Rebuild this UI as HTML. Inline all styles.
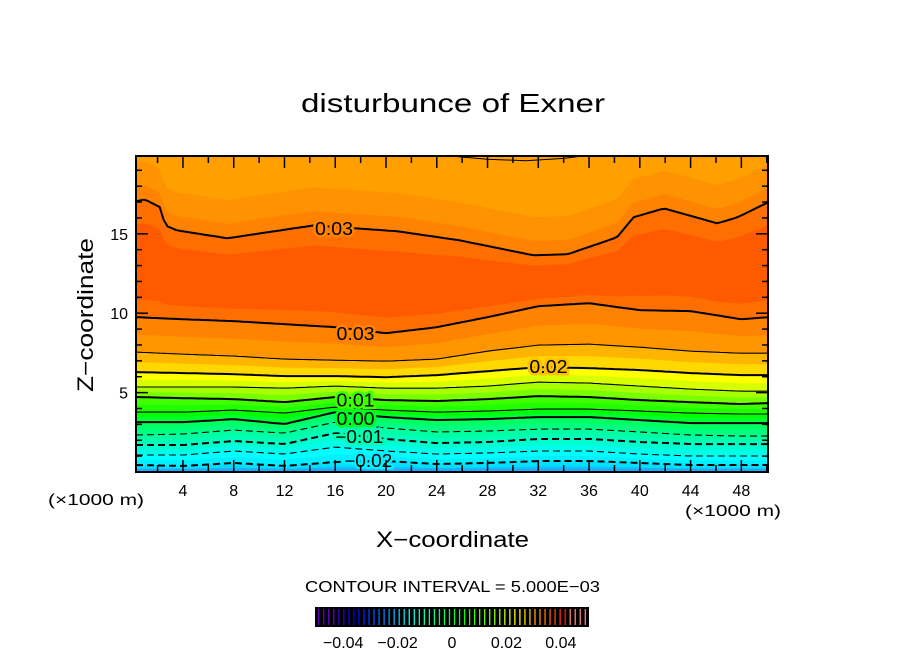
<!DOCTYPE html>
<html><head><meta charset="utf-8"><style>
body{margin:0;background:#fff;}
svg{display:block;font-family:"Liberation Sans",sans-serif;}
</style></head><body>
<svg id="chart" width="904" height="654" viewBox="0 0 904 654">
<text x="301" y="112" font-size="26" textLength="304" lengthAdjust="spacingAndGlyphs">disturbunce of Exner</text>
<g id="plot"></g>
<text x="48" y="505" font-size="16" textLength="96" lengthAdjust="spacingAndGlyphs">(×1000 m)</text>
<text x="685" y="516" font-size="16" textLength="96" lengthAdjust="spacingAndGlyphs">(×1000 m)</text>
<text x="376" y="547" font-size="22" textLength="153" lengthAdjust="spacingAndGlyphs">X−coordinate</text>
<text transform="translate(93,392) rotate(-90)" font-size="22" textLength="154" lengthAdjust="spacingAndGlyphs">Z−coordinate</text>
<text x="305" y="592" font-size="16" textLength="295" lengthAdjust="spacingAndGlyphs">CONTOUR INTERVAL = 5.000E−03</text>
<g id="cbar"></g>
</svg>
<script>
const NS="http://www.w3.org/2000/svg";
// ---- data ----
const xSamples=[0.3,4,8,12,16,20,24,28,32,36,40,44,48,50.1];
const levels=[-0.02,-0.015,-0.01,-0.005,0,0.005,0.01,0.015,0.02,0.025,0.03];
// contour heights (km) at xSamples, bottom to top
const zNeg020=[0.44,0.38,0.57,0.38,0.63,0.69,0.50,0.57,0.69,0.69,0.57,0.44,0.44,0.44];
const zNeg015=[1.07,1.07,1.32,1.13,1.57,1.32,1.13,1.20,1.32,1.32,1.13,1.01,1.01,1.01];
const zNeg010=[1.70,1.70,1.95,1.76,2.45,2.08,1.82,1.89,2.08,2.08,1.89,1.76,1.76,1.76];
const zNeg005=[2.33,2.39,2.64,2.45,3.14,2.77,2.52,2.58,2.70,2.70,2.52,2.33,2.26,2.26];
const zPos000=[3.14,3.14,3.33,3.02,3.77,3.46,3.27,3.33,3.46,3.46,3.27,3.08,3.08,3.08];
const zPos005=[3.77,3.77,3.90,3.71,4.09,3.90,3.77,3.84,3.96,3.96,3.84,3.71,3.65,3.65];
const zPos010=[4.72,4.65,4.59,4.40,4.72,4.53,4.47,4.59,4.78,4.72,4.53,4.40,4.28,4.34];
const zPos015=[5.35,5.35,5.35,5.28,5.41,5.28,5.28,5.41,5.66,5.60,5.41,5.22,5.09,5.09];
const zPos020=[6.29,6.23,6.16,6.04,6.04,5.97,6.10,6.35,6.60,6.54,6.42,6.23,6.10,6.10];
const zPos025=[7.55,7.42,7.30,7.11,7.04,6.98,7.11,7.61,7.99,8.05,7.86,7.61,7.48,7.48];
const zPos030Low=[9.75,9.62,9.50,9.31,9.12,8.74,9.12,9.75,10.44,10.63,10.19,10.13,9.62,9.75];
const upperXs=[0.3,1,2.2,2.6,3.5,7.5,14.3,20.9,25.8,31.6,34.3,38.2,39.5,41.9,46.1,47.7,50.1];
const zPos030Up=[17.04,17.17,16.67,15.53,15.22,14.72,15.53,15.16,14.59,13.65,13.71,14.78,16.04,16.60,15.66,16.04,16.98];
const topXs=[25,28,31,34,35.5];
const zTop025=[19.9,19.7,19.6,19.75,19.9];
const xTicks=[4,8,12,16,20,24,28,32,36,40,44,48];
const yTicks=[5,10,15];
const cbTicks=[-0.04,-0.02,0,0.02,0.04];
const cbLabels=["−0.04","−0.02","0","0.02","0.04"];
// ---- axes ----
const L=136,R=768,T=156,B=472, xmin=0.3,xmax=50.1, zmin=0,zmax=19.9;
const sx=x=>L+(x-xmin)/(xmax-xmin)*(R-L);
const sz=z=>B-(z-zmin)/(zmax-zmin)*(B-T);
function interp(xs,zs,x){ if(x<=xs[0])return zs[0]; for(let i=1;i<xs.length;i++){ if(x<=xs[i]){const t=(x-xs[i-1])/(xs[i]-xs[i-1]);return zs[i-1]+t*(zs[i]-zs[i-1]);}} return zs[zs.length-1];}
const N=160; const grid=[];for(let i=0;i<=N;i++)grid.push(xmin+(xmax-xmin)*i/N);
const lineZ=[zNeg020,zNeg015,zNeg010,zNeg005,zPos000,zPos005,zPos010,zPos015,zPos020,zPos025,zPos030Low];
const plot=document.getElementById('plot');
function el(tag,attrs,parent){const e=document.createElementNS(NS,tag);for(const k in attrs)e.setAttribute(k,attrs[k]);(parent||plot).appendChild(e);return e;}
function curveFn(f){return grid.map(x=>[sx(x),sz(f(x))]);}
const fLine=i=>x=>interp(xSamples,lineZ[i],x);
const fUp=x=>interp(upperXs,zPos030Up,x);
const defs=el('defs',{});const cp=el('clipPath',{id:'clip'},defs);el('rect',{x:L,y:T,width:R-L,height:B-T},cp);
const g=el('g',{'clip-path':'url(#clip)'});
const gAdd=(tag,a)=>el(tag,a,g);
function fb(f,color,name){const pts=curveFn(f);const d='M'+pts.map(p=>p[0].toFixed(1)+','+p[1].toFixed(1)).join('L')+`L${R},${B}L${L},${B}Z`;const p=gAdd('path',{d:d,fill:color});

}
gAdd('rect',{x:L,y:T,width:R-L,height:B-T,fill:'#ffa000'});
fb(x=>Math.min(19.9,fUp(x)+2.4),'#ff9200','band-0275');
fb(x=>fUp(x)+0.9,'#ff8200','band-029');
fb(fUp,'#ff6e00','band-030-upper');
fb(x=>fUp(x)-(fUp(x)-fLine(10)(x))*0.2,'#ff5a00','band-core');
fb(x=>fLine(10)(x)+(fUp(x)-fLine(10)(x))*0.15,'#ff6e00','band-core-low');
const bandCols=[['#00e0ff','#10c0ff'],['#00ffff','#00f0ff'],['#00ffd0','#00ffe8'],['#00ffa0','#00ffb8'],['#00ff60','#00ff80'],['#00ff00','#00ff30'],['#40ff00','#20ff00'],['#a8ff00','#78ff00'],['#ffff00','#d8ff00'],['#ffb400','#ffd800'],['#ff8200','#ff9600']];
for(let i=10;i>=0;i--){
  fb(fLine(i),bandCols[i][0],'band-below-'+levels[i]);
  const below=i>0?fLine(i-1):(x=>0);
  fb(x=>(fLine(i)(x)+below(x))/2,bandCols[i][1],'band-mid-'+levels[i]);
}
fb(x=>0.2,'#20a8ff','band-bottom');
function drawLine(xs,zs,lev,name){const d='M'+grid.map(x=>sx(x).toFixed(1)+','+sz(interp(xs,zs,x)).toFixed(1)).join('L');
 const thick=Math.abs(Math.round(lev*1000)%10)===0||lev===0.03;
 const p=gAdd('path',{d:d,fill:'none',stroke:'#000','stroke-width':thick?2:1.1,'stroke-dasharray':lev<0?'7,4':'none'});
 
 }
for(let i=0;i<levels.length;i++)drawLine(xSamples,lineZ[i],levels[i],'contour-'+levels[i]);
drawLine(upperXs,zPos030Up,0.03,'contour-0.03-upper');
{const d='M'+topXs.map((x,i)=>sx(x).toFixed(1)+','+sz(zTop025[i]).toFixed(1)).join('L');const p=gAdd('path',{d:d,fill:'none',stroke:'#000','stroke-width':1});

}
const labs=[["0.03",15.9,15.3,'#ff8200',38],["0.03",17.6,8.7,'#ff8200',38],["0.02",32.8,6.6,'#ffc000',38],["0.01",17.6,4.5,'#40ff00',38],["0.00",17.6,3.35,'#00ff20',38],["−0.01",17.9,2.2,'#00ffb0',48],["−0.02",18.6,0.7,'#00f0ff',48]];
labs.forEach(l=>{const t=gAdd('text',{x:sx(l[1])-l[4]/2,y:sz(l[2])+6,'font-size':18,textLength:l[4],lengthAdjust:'spacingAndGlyphs',stroke:l[3],'stroke-width':5,'paint-order':'stroke',fill:'#000'});t.textContent=l[0];

});
el('rect',{x:L,y:T,width:R-L,height:B-T,fill:'none',stroke:'#000','stroke-width':2,});
for(let x=2;x<=50;x+=2){const X=sx(x);const len=(x%4===0)?12:7;
 el('line',{x1:X,y1:B,x2:X,y2:B-len,stroke:'#000','stroke-width':1.5});el('line',{x1:X,y1:T,x2:X,y2:T+len,stroke:'#000','stroke-width':1.5});}
for(let z=1;z<=19;z++){const Y=sz(z);const len=(z%5===0)?12:6;
 el('line',{x1:L,y1:Y,x2:L+len,y2:Y,stroke:'#000','stroke-width':1.5});el('line',{x1:R,y1:Y,x2:R-len,y2:Y,stroke:'#000','stroke-width':1.5});}
xTicks.forEach(v=>{const t=el('text',{x:sx(v),y:496,'font-size':16,'text-anchor':'middle'});t.textContent=v;

});
yTicks.forEach(v=>{const t=el('text',{x:128,y:sz(v)+6,'font-size':16,'text-anchor':'end'});t.textContent=v;

});
const cb=document.getElementById('cbar');const CL=316,CR=588,CT=608,CB=626;
const cs=v=>CL+(v+0.05)/0.1*(CR-CL);
el('rect',{x:CL,y:CT,width:CR-CL,height:CB-CT,fill:'#000',stroke:'#000','stroke-width':2},cb);
for(let i=0;i<54;i++){const v=-0.049+i*0.098/53;const h=i<4?270:Math.max(0,260-(i-4)*(260/46));const col=i>=50?'#ff8080':`hsl(${h},100%,${i<8?40:50}%)`;
 el('line',{x1:cs(v),y1:CT+1,x2:cs(v),y2:CB-1,stroke:col,'stroke-width':1.3},cb);}
cbTicks.forEach((v,i)=>{const t=el('text',{x:cs(v),y:648,'font-size':16,'text-anchor':'middle'},cb);t.textContent=cbLabels[i];

});
</script>
</body></html>
